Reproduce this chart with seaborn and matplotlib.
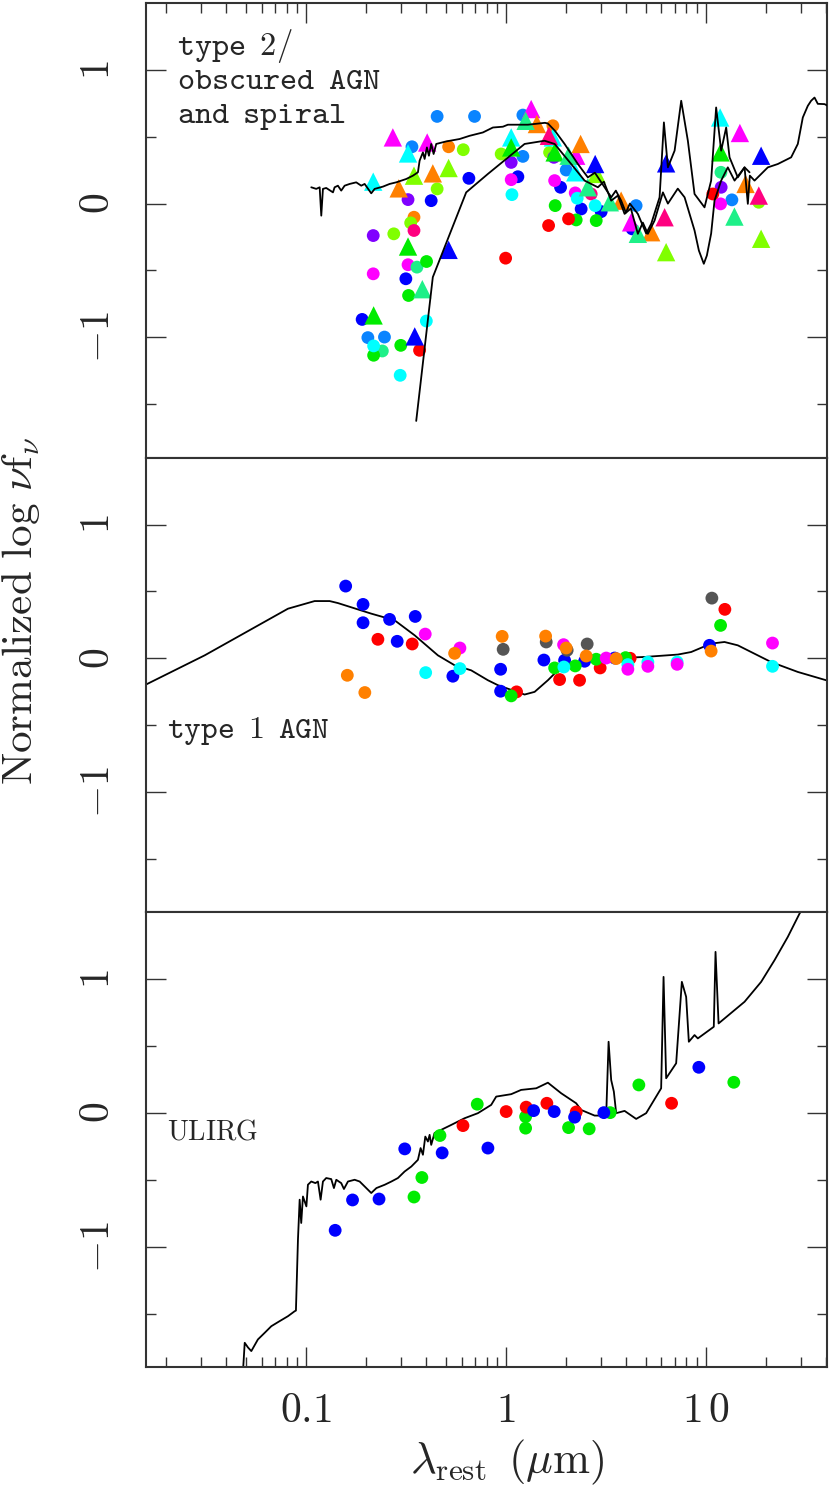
import matplotlib
matplotlib.use("Agg")
import matplotlib.pyplot as plt
import matplotlib.ticker as mticker
import pandas as pd
import seaborn as sns

# ---------------- panel 1 : type 2 / obscured AGN and spiral
spiral_lam = [0.1063, 0.1126, 0.1171, 0.1193, 0.1216, 0.1263, 0.1365, 0.1391, 0.1445, 0.1501,
              0.1561, 0.1654, 0.1784, 0.1890, 0.1966, 0.2121, 0.2206, 0.2427, 0.2621, 0.2828,
              0.3173, 0.3428, 0.3631, 0.3702, 0.3846, 0.3922, 0.4027, 0.4121, 0.4232, 0.4350,
              0.4483, 0.5029, 0.5869, 0.6584, 0.7674, 0.8610, 0.9661,
              1.023, 1.288, 1.567, 1.622, 1.758, 1.966, 2.291, 2.570, 2.786, 3.116,
              3.362, 3.548, 3.772, 3.981, 4.169, 4.571, 5.03, 5.33, 5.87, 6.17, 6.46, 6.98, 7.53,
              8.13, 8.78, 9.85, 10.63, 11.26, 11.93, 12.64, 13.14, 14.45, 15.62, 16.54]
spiral_val = [0.122, 0.110, 0.122, -0.090, 0.110, 0.117, 0.084, 0.122, 0.134, 0.097,
              0.134, 0.147, 0.159, 0.134, 0.147, 0.077, 0.110, 0.127, 0.147, 0.159,
              0.184, 0.209, 0.234, 0.321, 0.383, 0.334, 0.420, 0.358, 0.446, 0.371,
              0.446, 0.465, 0.483, 0.507, 0.532, 0.569, 0.575,
              0.590, 0.590, 0.604, 0.599, 0.545, 0.446, 0.296, 0.196, 0.231, 0.122,
              0.047, 0.097, 0.022, -0.067, 0.0, -0.077, -0.224, -0.151, 0.047, 0.607, 0.271, 0.396,
              0.769, 0.470, 0.072, -0.028, 0.172, 0.719, 0.396, 0.569, 0.346, 0.196, 0.271, 0.234]

obsc_lam = [0.356, 0.431, 0.633, 0.813, 1.240, 1.561, 1.753, 2.121, 2.475, 2.884, 3.09, 3.362,
            3.63, 3.923, 4.217, 4.571, 4.84, 5.129, 5.54, 6.10, 6.46, 7.24, 7.83, 8.78, 9.23,
            9.77, 10.12, 10.63, 11.05, 11.93, 12.88, 13.92, 15.62, 16.22, 16.6, 17.52, 20.42,
            22.91, 26.71, 28.84, 30.55, 32.36, 33.62, 34.96, 36.31, 39.22, 40.74]
obsc_val = [-1.625, -0.550, 0.084, 0.222, 0.446, 0.470, 0.446, 0.296, 0.172, 0.122, 0.164, 0.022,
            0.060, -0.077, -0.037, -0.226, -0.142, -0.226, -0.127, 0.084, 0.0, 0.112, 0.047,
            -0.201, -0.351, -0.450, -0.388, -0.224, 0.022, 0.172, 0.271, 0.172, 0.271, -0.002,
            0.209, 0.172, 0.271, 0.296, 0.346, 0.446, 0.644, 0.731, 0.769, 0.793, 0.746, 0.744, 0.731]

p1_dot_lam = [0.453, 0.697, 0.339, 0.204, 0.247, 1.216, 1.216, 2.003, 4.48, 13.5,
              0.517, 0.347, 1.718,
              0.612, 0.453, 0.334, 0.275, 0.947, 1.654, 18.4,
              0.653, 0.423, 0.316, 0.191, 1.148, 1.877, 2.379, 2.997, 4.28,
              0.324, 0.217, 1.063, 1.738, 11.93,
              0.347, 2.67,
              0.324, 0.217, 1.063, 1.753, 2.222, 11.85,
              0.359, 0.241, 11.9,
              0.401, 0.326, 0.218, 0.298, 1.764, 2.247, 2.83,
              0.400, 0.218, 0.296, 1.072, 2.796, 2.273,
              0.370, 1.635, 0.997, 2.058, 10.84]
p1_dot_val = [0.652, 0.652, 0.425, -1.002, -0.998, 0.662, 0.353, 0.251, -0.015, 0.028,
              0.425, -0.102, 0.582,
              0.403, 0.110, -0.144, -0.226, 0.371, 0.383, 0.01,
              0.189, 0.022, -0.562, -0.866, 0.201, 0.122, -0.040, -0.060, -0.189,
              0.030, -0.239, 0.308, 0.346, 0.122,
              -0.201, 0.072,
              -0.457, -0.525, 0.179, 0.172, 0.080, -0.002,
              -0.475, -1.102, 0.234,
              -0.433, -0.687, -1.134, -1.060, -0.015, -0.122, -0.127,
              -0.878, -1.064, -1.284, 0.067, -0.015, 0.040,
              -1.097, -0.164, -0.408, -0.114, 0.072]
p1_dot_col = (["dodger"] * 10 + ["orange"] * 3 + ["chart"] * 7 + ["blue"] * 9 + ["purple"] * 5
              + ["pink"] * 2 + ["magenta"] * 6 + ["spring"] * 3 + ["green"] * 7 + ["cyan"] * 6
              + ["red"] * 5)

p1_tri_lam = [0.272, 0.404, 1.338, 4.23, 14.8, 2.247,
              0.324, 0.217, 1.063, 1.718, 2.222, 11.79,
              0.291, 0.431, 1.429, 2.364, 3.77, 5.33, 15.8,
              0.347, 0.517, 2.84, 6.33, 18.9,
              0.324, 0.218, 1.063, 1.753, 11.85,
              0.382, 1.255, 2.058, 2.57, 3.31, 4.57, 13.9,
              0.517, 0.350, 2.796, 6.33, 18.9,
              1.641, 6.22, 18.4]
p1_tri_val = [0.495, 0.457, 0.707, -0.140, 0.528, 0.358,
              0.375, 0.164, 0.495, 0.495, 0.234, 0.644,
              0.114, 0.226, 0.595, 0.446, 0.022, -0.214, 0.147,
              0.209, 0.266, 0.222, -0.363, -0.263,
              -0.321, -0.836, 0.420, 0.383, 0.383,
              -0.640, 0.619, 0.358, 0.122, 0.010, -0.226, -0.097,
              -0.346, -0.993, 0.296, 0.301, 0.358,
              0.507, -0.102, 0.060]
p1_tri_col = (["magenta"] * 6 + ["cyan"] * 6 + ["orange"] * 7 + ["chart"] * 5 + ["green"] * 5
              + ["spring"] * 7 + ["blue"] * 5 + ["pink"] * 3)

# ---------------- panel 2 : type 1 AGN
qso_lam = [0.01445, 0.03114, 0.0813, 0.1105, 0.1314, 0.1445, 0.2121, 0.2777, 0.3496, 0.4571,
           0.554, 0.6706, 0.8128, 0.912, 1.240, 1.392, 1.622, 1.856, 2.291, 3.116, 4.94, 7.244,
           8.445, 10.63, 12.40, 14.45, 21.21, 28.84, 39.96]
qso_val = [-0.226, 0.022, 0.371, 0.428, 0.428, 0.413, 0.334, 0.284, 0.172, 0.022, -0.052, -0.090,
           -0.164, -0.201, -0.271, -0.251, -0.164, -0.077, -0.040, -0.002, 0.010, 0.028, 0.047,
           0.110, 0.122, 0.097, -0.028, -0.102, -0.164]

p2_lam = [0.158, 0.193, 0.193, 0.262, 0.352, 0.286, 0.543, 0.941, 0.941, 1.549, 1.966, 2.475, 3.497, 10.43,
          0.229, 0.340, 1.131, 1.856, 2.336, 2.961, 4.183, 12.45,
          0.969, 1.591, 2.025, 2.550, 10.72,
          1.063, 1.753, 2.222, 2.83, 3.967, 11.85,
          0.397, 0.589, 1.950, 4.074, 5.129, 7.186, 21.55,
          0.395, 0.589, 1.943, 3.174, 4.074, 5.129, 7.186, 21.55,
          0.161, 0.197, 0.554, 0.958, 1.58, 2.003, 2.521, 3.561, 10.63]
p2_val = [0.540, 0.403, 0.266, 0.291, 0.313, 0.127, -0.134, -0.082, -0.246, -0.013, -0.015, -0.022, 0.002, 0.097,
          0.142, 0.107, -0.251, -0.159, -0.164, -0.072, 0.0, 0.366,
          0.067, 0.122, 0.060, 0.107, 0.450,
          -0.281, -0.072, -0.057, -0.007, 0.005, 0.246,
          -0.107, -0.077, -0.065, -0.047, -0.028, -0.028, -0.060,
          0.181, 0.077, 0.102, 0.002, -0.082, -0.060, -0.045, 0.114,
          -0.127, -0.256, 0.037, 0.164, 0.166, 0.077, 0.017, -0.002, 0.054]
p2_col = (["blue"] * 14 + ["red"] * 8 + ["grey"] * 5 + ["green"] * 6 + ["cyan"] * 7
          + ["magenta"] * 8 + ["orange"] * 9)

# ---------------- panel 3 : ULIRG
ulirg_lam = [0.0486, 0.0494, 0.0513, 0.0533, 0.0575, 0.0624, 0.0671, 0.0733, 0.0813, 0.0878, 0.0891,
             0.0912, 0.0930, 0.0947, 0.0966, 0.1005, 0.1023, 0.1063, 0.1115, 0.1148, 0.1184, 0.1216,
             0.1263, 0.1338, 0.1380, 0.1418, 0.1501, 0.1549, 0.1622, 0.1752, 0.1856, 0.1966, 0.2121,
             0.2251, 0.2479, 0.2675, 0.2884, 0.3116, 0.3365, 0.3631, 0.3745, 0.3846, 0.3953, 0.4074,
             0.4155, 0.4232, 0.4395, 0.4742, 0.5327, 0.6211, 0.7244, 0.8443,
             0.8944, 1.063, 1.192, 1.418, 1.622, 1.890, 2.247, 2.379,
             2.777, 3.174, 3.263, 3.362, 3.467, 3.561, 3.923, 4.483, 5.03, 5.977, 6.145, 6.332, 7.105,
             7.586, 7.971, 8.222, 8.78, 9.12, 10.96, 11.18, 11.58, 15.62, 18.91, 22.06, 25.70, 29.41, 32.36]
ulirg_val = [-1.893, -1.719, -1.754, -1.781, -1.694, -1.642, -1.595, -1.560, -1.520, -1.483, -1.478,
             -0.948, -0.649, -0.823, -0.625, -0.699, -0.537, -0.513, -0.525, -0.513, -0.649, -0.513,
             -0.487, -0.495, -0.562, -0.500, -0.525, -0.569, -0.513, -0.500, -0.513, -0.550, -0.599,
             -0.562, -0.537, -0.513, -0.487, -0.438, -0.401, -0.351, -0.263, -0.313, -0.177, -0.214,
             -0.164, -0.239, -0.151, -0.127, -0.090, -0.040, -0.002, 0.060,
             0.122, 0.140, 0.172, 0.184, 0.226, 0.147, 0.072, 0.022,
             -0.020, -0.020, 0.532, 0.246, 0.159, -0.002, 0.015, -0.045, -0.002, 0.184, 1.017, 0.259, 0.371,
             0.980, 0.868, 0.532, 0.582, 0.557, 0.644, 1.204, 0.669, 0.831, 0.980, 1.142, 1.316, 1.490, 1.59]

p3_lam = [0.347, 0.380, 0.468, 0.719, 1.255, 1.255, 2.058, 2.609, 3.323, 4.624, 13.80,
          0.610, 1.003, 1.263, 1.603, 2.247, 6.74,
          0.140, 0.171, 0.232, 0.312, 0.480, 0.813, 1.376, 1.744, 2.206, 3.090, 9.226]
p3_val = [-0.629, -0.483, -0.169, 0.065, -0.028, -0.114, -0.110, -0.119, 0.002, 0.209, 0.229,
          -0.095, 0.010, 0.043, 0.072, 0.007, 0.072,
          -0.878, -0.651, -0.644, -0.269, -0.299, -0.263, 0.017, 0.010, -0.032, 0.002, 0.341]
p3_col = ["green"] * 11 + ["red"] * 6 + ["blue"] * 11

palette = {"blue": "#0000ff", "red": "#ff0000", "green": "#00ec00", "magenta": "#ff00ff",
           "cyan": "#00ffff", "orange": "#ff8000", "grey": "#555555", "dodger": "#0a84ff",
           "chart": "#80ff00", "spring": "#1ef088", "purple": "#8000ff", "pink": "#ff0080"}

sns.set_style("ticks")
plt.rcParams["mathtext.fontset"] = "cm"
plt.rcParams["font.family"] = ["DejaVu Serif"]

fig = plt.figure(figsize=(8.3, 14.97), dpi=100)
left, width = 146 / 830, 681 / 830
h = 454.7 / 1497
tops = [3, 457.7, 912.3]
axes = [fig.add_axes([left, 1 - (t / 1497) - h, width, h]) for t in tops]


def px_y(ax, ypx):
    # figure pixel row -> axes fraction for the given panel
    pos = ax.get_position()
    return (1 - ypx / 1497 - pos.y0) / pos.height


xlo, xhi = 10 ** -1.80, 10 ** 1.606
for i, ax in enumerate(axes):
    ax.set_xscale("log")
    ax.set_xlim(xlo, xhi)
    ax.set_ylim(-1.9, 1.5)
    for sp in ax.spines.values():
        sp.set_color("#333333")
        sp.set_linewidth(1.5)
    ax.yaxis.set_major_locator(mticker.FixedLocator([-1, 0, 1]))
    ax.yaxis.set_minor_locator(mticker.FixedLocator([-1.5, -0.5, 0.5]))
    ax.yaxis.set_major_formatter(mticker.FuncFormatter(
        lambda v, p: {1: "$1$", 0: "$0$", -1: "$-1$"}.get(int(round(v)), "")))
    ax.tick_params(axis="y", which="both", direction="in", left=True, right=True,
                   color="#333333", width=1.0)
    ax.tick_params(axis="y", which="major", length=14.5, labelsize=30, labelrotation=90, pad=20)
    ax.tick_params(axis="y", which="minor", length=7)
    for lab in ax.get_yticklabels():
        lab.set_va("center")
    ax.xaxis.set_major_locator(mticker.LogLocator(base=10, numticks=10))
    ax.xaxis.set_minor_locator(mticker.LogLocator(base=10, subs=range(2, 10), numticks=20))
    ax.xaxis.set_major_formatter(mticker.FuncFormatter(
        lambda v, p: {0.1: r"$0.1$", 1.0: "$1$", 10.0: r"$1\,0$"}.get(round(v, 3), "")))
    ax.xaxis.set_minor_formatter(mticker.NullFormatter())
    ax.tick_params(axis="x", which="both", direction="in", color="#333333", width=1.0,
                   top=(i == 0), bottom=(i == 2), labelbottom=(i == 2), labeltop=False)
    ax.tick_params(axis="x", which="major", length=14.5, labelsize=30, pad=16)
    ax.tick_params(axis="x", which="minor", length=7)

# panel 1
ax = axes[0]
d1 = pd.DataFrame({"lam": p1_dot_lam, "val": p1_dot_val, "src": p1_dot_col})
t1 = pd.DataFrame({"lam": p1_tri_lam, "val": p1_tri_val, "src": p1_tri_col})
sns.scatterplot(data=d1, x="lam", y="val", hue="src", palette=palette, marker="o", s=85,
                linewidth=0, legend=False, ax=ax, zorder=2)
sns.scatterplot(data=t1, x="lam", y="val", hue="src", palette=palette, marker="^", s=175,
                linewidth=0, legend=False, ax=ax, zorder=2)
sns.lineplot(x=spiral_lam, y=spiral_val, sort=False, estimator=None, color="black",
             linewidth=1.3, ax=ax, zorder=3)
sns.lineplot(x=obsc_lam, y=obsc_val, sort=False, estimator=None, color="black",
             linewidth=1.3, ax=ax, zorder=3)
gap = r"\ \,"
for line, ypx in zip(["type" + gap + "2/", "obscured" + gap + "AGN", "and" + gap + "spiral"],
                     [55, 89, 123]):
    ax.text(0.0455, px_y(ax, ypx), r"$\mathtt{" + line + "}$", transform=ax.transAxes,
            fontsize=23.5, va="baseline", ha="left")

# panel 2
ax = axes[1]
sns.lineplot(x=qso_lam, y=qso_val, sort=False, estimator=None, color="black",
             linewidth=1.3, ax=ax, zorder=2)
d2 = pd.DataFrame({"lam": p2_lam, "val": p2_val, "src": p2_col})
sns.scatterplot(data=d2, x="lam", y="val", hue="src", palette=palette, marker="o", s=85,
                linewidth=0, legend=False, ax=ax, zorder=3)
ax.text((167 - 146) / 681, px_y(ax, 738), r"$\mathtt{type" + gap + "1" + gap + "AGN}$",
        transform=ax.transAxes, fontsize=23, va="baseline", ha="left")

# panel 3
ax = axes[2]
sns.lineplot(x=ulirg_lam, y=ulirg_val, sort=False, estimator=None, color="black",
             linewidth=1.3, ax=ax, zorder=2)
d3 = pd.DataFrame({"lam": p3_lam, "val": p3_val, "src": p3_col})
sns.scatterplot(data=d3, x="lam", y="val", hue="src", palette=palette, marker="o", s=85,
                linewidth=0, legend=False, ax=ax, zorder=3)
ax.text((167 - 146) / 681, px_y(ax, 1140), r"$\mathrm{ULIRG}$", transform=ax.transAxes,
        fontsize=20, va="baseline", ha="left")

for ax in axes:
    ax.set_xlabel("")
    ax.set_ylabel("")
    ax.set_xlim(xlo, xhi)
    ax.set_ylim(-1.9, 1.5)

fig.text(21 / 830, 1 - 611 / 1497, r"$\mathrm{Normalized\ log}\ \nu\mathrm{f}_\nu$",
         rotation=90, fontsize=31, ha="center", va="center")
fig.text(507 / 830, 1 - 1462 / 1497, r"$\lambda_{\mathrm{rest}}\ \,(\mu\mathrm{m})$",
         fontsize=32, ha="center", va="center")

fig.savefig("out.png", dpi=100)
